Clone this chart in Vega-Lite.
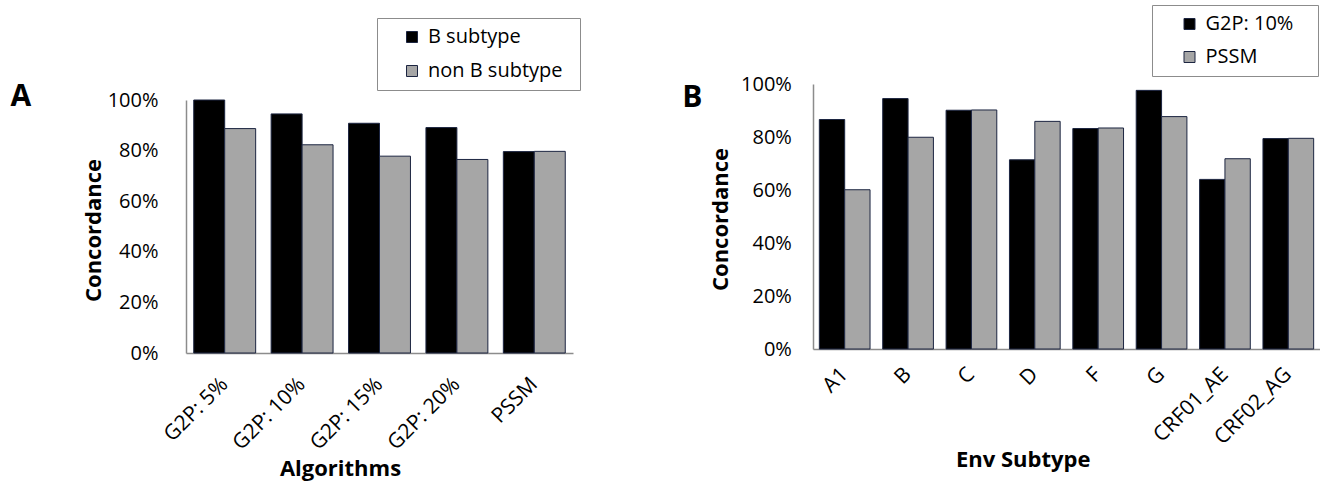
{
  "$schema": "https://vega.github.io/schema/vega-lite/v6.json",
  "background": "white",
  "padding": {"left": 10, "top": 4, "right": 0, "bottom": 2},
  "autosize": {"type": "pad"},
  "bounds": "flush",
  "spacing": 240,
  "resolve": {"scale": {"color": "independent", "xOffset": "independent"}, "legend": {"color": "independent"}},
  "config": {
    "font": "Open Sans",
    "view": {"stroke": null},
    "axis": {
      "grid": false,
      "ticks": false,
      "tickSize": 0,
      "domainColor": "#8c8c8c",
      "domainWidth": 1.5,
      "labelFont": "Open Sans",
      "labelFontSize": 20,
      "labelColor": "#000000",
      "titleFont": "Open Sans",
      "titleFontSize": 22,
      "titleFontWeight": "bold",
      "titleColor": "#000000"
    },
    "legend": {
      "labelFont": "Open Sans",
      "labelFontSize": 20,
      "labelColor": "#000000",
      "symbolType": "square",
      "symbolSize": 121,
      "symbolStrokeColor": "#1c2541",
      "symbolStrokeWidth": 1,
      "strokeColor": "#8c8c8c",
      "fillColor": "#ffffff",
      "labelOffset": 6,
      "padding": 9,
      "titleOrient": "right",
      "titleFontSize": 1
    },
    "title": {"font": "Open Sans", "fontSize": 30, "fontWeight": "bold", "color": "#000000"}
  },
  "hconcat": [
    {
      "width": 387,
      "height": 269,
      "title": {"text": "A", "orient": "left", "anchor": "end", "frame": "group", "angle": 0, "align": "right", "baseline": "middle", "offset": 30, "dy": 12.5},
      "data": {"values": [
        {"algorithm": "G2P: 5%", "subtype": "B subtype", "concordance": 1.0},
        {"algorithm": "G2P: 5%", "subtype": "non B subtype", "concordance": 0.887},
        {"algorithm": "G2P: 10%", "subtype": "B subtype", "concordance": 0.945},
        {"algorithm": "G2P: 10%", "subtype": "non B subtype", "concordance": 0.823},
        {"algorithm": "G2P: 15%", "subtype": "B subtype", "concordance": 0.908},
        {"algorithm": "G2P: 15%", "subtype": "non B subtype", "concordance": 0.778},
        {"algorithm": "G2P: 20%", "subtype": "B subtype", "concordance": 0.891},
        {"algorithm": "G2P: 20%", "subtype": "non B subtype", "concordance": 0.765},
        {"algorithm": "PSSM", "subtype": "B subtype", "concordance": 0.796},
        {"algorithm": "PSSM", "subtype": "non B subtype", "concordance": 0.797}
      ]},
      "mark": {"type": "bar", "stroke": "#1c2541", "strokeWidth": 1},
      "encoding": {
        "x": {
          "field": "algorithm", "type": "nominal",
          "sort": ["G2P: 5%", "G2P: 10%", "G2P: 15%", "G2P: 20%", "PSSM"],
          "scale": {"paddingInner": 0.2, "paddingOuter": 0.1},
          "axis": {"title": "Algorithms", "labelAngle": -45, "labelAlign": "right", "labelBaseline": "middle", "labelFontSize": 21, "labelPadding": 28, "titleX": 154, "titleY": 122.5, "titleBaseline": "alphabetic"}
        },
        "xOffset": {"field": "subtype", "type": "nominal", "sort": ["B subtype", "non B subtype"], "scale": {"paddingInner": 0, "paddingOuter": 0}},
        "y": {
          "field": "concordance", "type": "quantitative",
          "scale": {"domain": [0, 1], "range": [269, 16], "nice": false},
          "axis": {"title": "Concordance", "format": ".0%", "values": [0, 0.2, 0.4, 0.6, 0.8, 1], "labelPadding": 28, "titleX": -93, "titleY": 146, "titleBaseline": "middle", "titleAngle": -90}
        },
        "color": {
          "field": "subtype", "type": "nominal",
          "sort": ["B subtype", "non B subtype"],
          "scale": {"range": ["#000000", "#a6a6a6"]},
          "legend": {"orient": "none", "legendX": 191, "legendY": -66, "title": " ", "titlePadding": 8, "rowPadding": 14, "symbolOffset": 16}
        }
      }
    },
    {
      "width": 507,
      "height": 265,
      "title": {"text": "B", "orient": "left", "anchor": "end", "frame": "group", "angle": 0, "align": "right", "baseline": "middle", "offset": -13, "dy": 13.7},
      "data": {"values": [
        {"subtypeEnv": "A1", "method": "G2P: 10%", "concordance": 0.866},
        {"subtypeEnv": "A1", "method": "PSSM", "concordance": 0.601},
        {"subtypeEnv": "B", "method": "G2P: 10%", "concordance": 0.945},
        {"subtypeEnv": "B", "method": "PSSM", "concordance": 0.799},
        {"subtypeEnv": "C", "method": "G2P: 10%", "concordance": 0.901},
        {"subtypeEnv": "C", "method": "PSSM", "concordance": 0.902},
        {"subtypeEnv": "D", "method": "G2P: 10%", "concordance": 0.714},
        {"subtypeEnv": "D", "method": "PSSM", "concordance": 0.859},
        {"subtypeEnv": "F", "method": "G2P: 10%", "concordance": 0.832},
        {"subtypeEnv": "F", "method": "PSSM", "concordance": 0.834},
        {"subtypeEnv": "G", "method": "G2P: 10%", "concordance": 0.976},
        {"subtypeEnv": "G", "method": "PSSM", "concordance": 0.877},
        {"subtypeEnv": "CRF01_AE", "method": "G2P: 10%", "concordance": 0.64},
        {"subtypeEnv": "CRF01_AE", "method": "PSSM", "concordance": 0.718},
        {"subtypeEnv": "CRF02_AG", "method": "G2P: 10%", "concordance": 0.794},
        {"subtypeEnv": "CRF02_AG", "method": "PSSM", "concordance": 0.795}
      ]},
      "mark": {"type": "bar", "stroke": "#1c2541", "strokeWidth": 1},
      "encoding": {
        "x": {
          "field": "subtypeEnv", "type": "nominal",
          "sort": ["A1", "B", "C", "D", "F", "G", "CRF01_AE", "CRF02_AG"],
          "scale": {"paddingInner": 0.2, "paddingOuter": 0.1},
          "axis": {"title": "Env Subtype", "labelAngle": -45, "labelAlign": "right", "labelBaseline": "middle", "labelFontSize": 21, "labelPadding": 22, "titleX": 209.7, "titleY": 117, "titleBaseline": "alphabetic"}
        },
        "xOffset": {"field": "method", "type": "nominal", "sort": ["G2P: 10%", "PSSM"], "scale": {"paddingInner": 0, "paddingOuter": 0}},
        "y": {
          "field": "concordance", "type": "quantitative",
          "scale": {"domain": [0, 1], "nice": false},
          "axis": {"title": "Concordance", "format": ".0%", "values": [0, 0.2, 0.4, 0.6, 0.8, 1], "labelPadding": 21.6, "titleX": -92.5, "titleY": 135, "titleBaseline": "middle", "titleAngle": -90}
        },
        "color": {
          "field": "method", "type": "nominal",
          "sort": ["G2P: 10%", "PSSM"],
          "scale": {"range": ["#000000", "#a6a6a6"]},
          "legend": {"orient": "none", "legendX": 339, "legendY": -79, "title": " ", "titlePadding": 16, "rowPadding": 13, "symbolOffset": 18.5}
        }
      }
    }
  ]
}
